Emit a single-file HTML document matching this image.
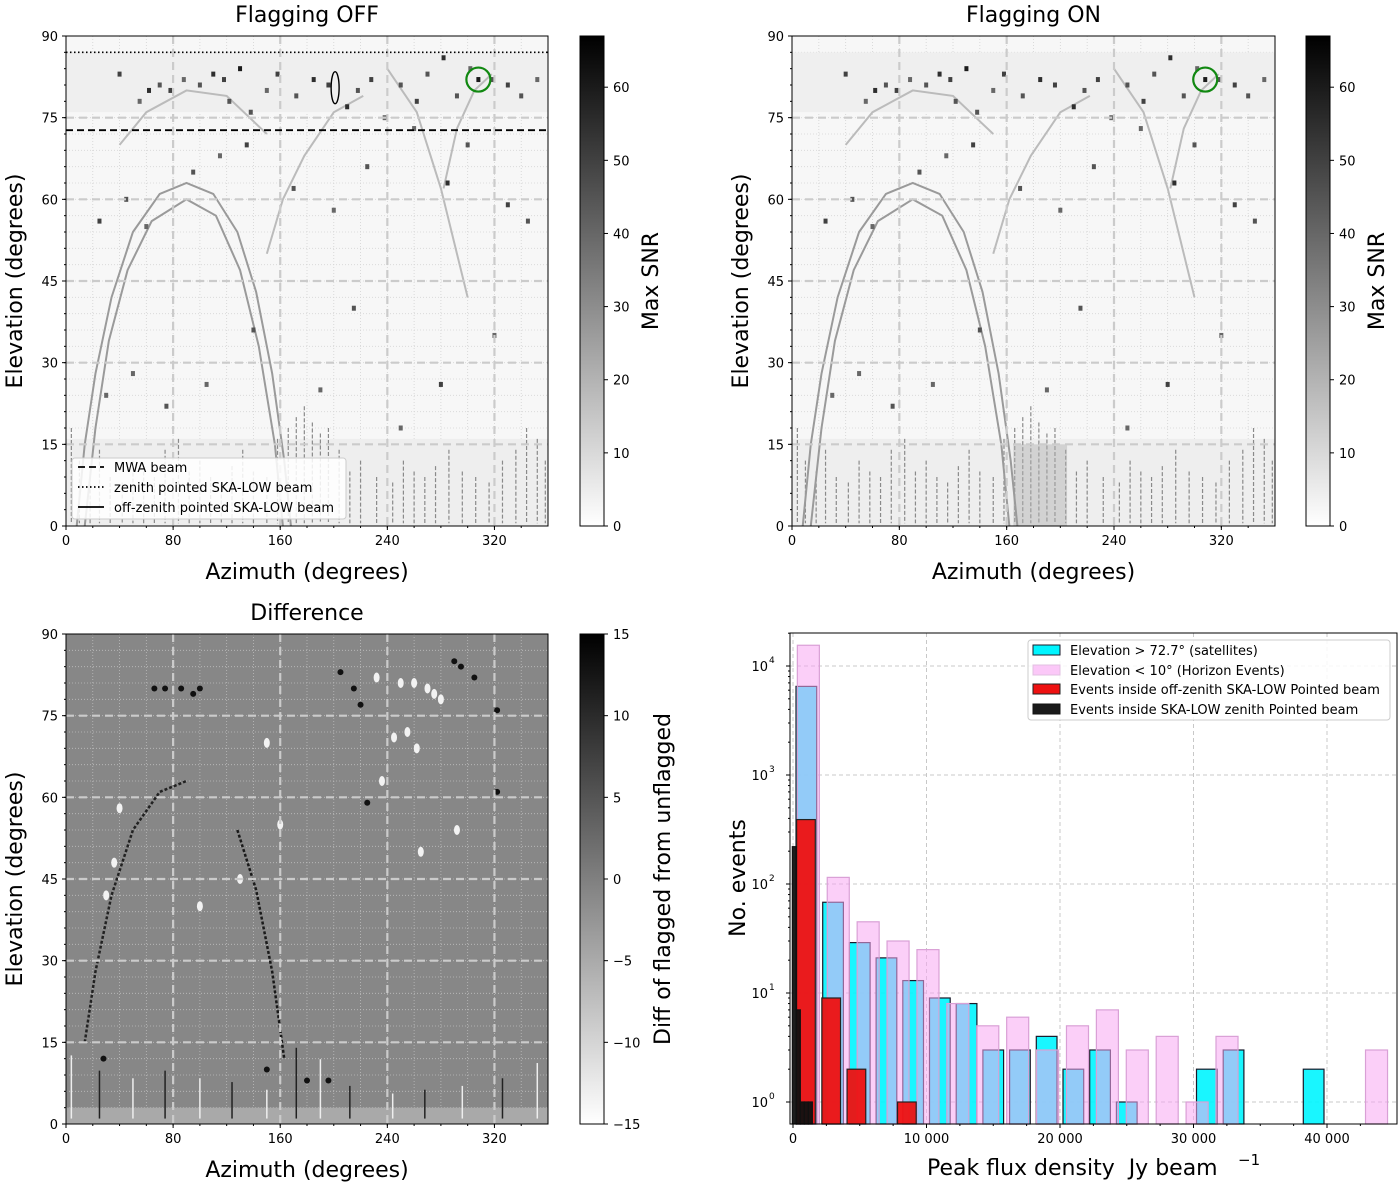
<!DOCTYPE html>
<html><head><meta charset="utf-8"><style>
body{margin:0;background:#fff;font-family:"Liberation Sans","DejaVu Sans",sans-serif}
svg text{font-family:"DejaVu Sans","Liberation Sans",sans-serif;fill:#000}
</style></head><body>
<svg id="fig" width="1400" height="1184" viewBox="0 0 1400 1184" xmlns="http://www.w3.org/2000/svg">
<defs>
<linearGradient id="gsnr" x1="0" y1="1" x2="0" y2="0"><stop offset="0" stop-color="#fff"/><stop offset="1" stop-color="#000"/></linearGradient>
</defs>
</svg>
<script>
// ---------- data ----------
const azTicks=[0,80,160,240,320];
const elTicks=[0,15,30,45,60,75,90];
const snrTicks=[0,10,20,30,40,50,60];
const diffTicks=[-15,-10,-5,0,5,10,15];
// arcs (az, el)
const arcMain=[[8,0],[14,15],[22,28],[34,42],[50,54],[70,61],[90,63],[110,61],[128,54],[142,43],[154,28],[163,12],[168,0]];
const arcInner=[[14,0],[22,18],[32,34],[46,47],[64,56],[90,60],[112,57],[130,47],[144,33],[156,15],[162,0]];
const arcMid=[[150,50],[162,60],[178,68],[200,76],[222,79]];
const arcRight=[[240,84],[262,76],[280,62],[292,50],[300,42]];
const arcSat=[[318,83],[305,80],[292,73],[282,62]];
const arcTop=[[40,70],[60,76],[90,80],[120,79],[150,72]];
// dark dots in SNR maps [az, el, intensity]
const dotsAz=[40,55,62,70,78,88,100,110,118,122,130,138,150,158,172,185,196,210,218,228,238,250,262,270,282,292,302,308,318,330,340,352,25,45,60,95,115,135,170,200,225,260,285,300,330,345,30,50,75,105,140,190,215,250,280,320];
const dotsEl=[83,78,80,81,80,82,81,83,82,78,84,76,80,83,79,82,81,77,80,82,75,81,78,83,86,79,84,82,82,81,79,82,56,60,55,65,68,70,62,58,66,73,63,70,59,56,24,28,22,26,36,25,40,18,26,35];
const dotsV=[50,40,55,45,50,40,45,55,50,45,60,45,40,50,45,55,50,55,45,50,40,45,50,45,55,45,40,60,45,50,45,40,50,45,40,45,40,50,45,40,45,40,55,45,50,45,40,40,45,40,45,40,45,40,50,40];
// vertical streaks near horizon (azimuth)
const streakAz=[4,10,18,25,33,42,50,58,66,74,84,92,100,108,116,124,132,140,150,158,166,172,178,184,190,196,204,212,220,232,244,252,260,268,276,286,296,306,316,326,336,344,352,358];
const streakTop=[18,12,10,14,9,8,12,10,9,14,16,10,12,9,8,11,14,10,9,16,18,20,22,19,17,18,14,10,12,9,8,12,10,9,11,14,10,9,8,12,14,18,16,12];
// difference map features [az, el, sign]
const diffAz=[66,74,86,95,100,205,215,220,290,295,305,322,232,250,260,270,275,280,255,262,245,36,100,130,150,236,292,28,150,180,196,322,265,160,40,30,225];
const diffEl=[80,80,80,79,80,83,80,77,85,84,82,76,82,81,81,80,79,78,72,69,71,48,40,45,70,63,54,12,10,8,8,61,50,55,58,42,59];
const diffS=[1,1,1,1,1,1,1,1,1,1,1,1,-1,-1,-1,-1,-1,-1,-1,-1,-1,-1,-1,-1,-1,-1,-1,1,1,1,1,1,-1,-1,-1,-1,1];
// histogram
const cyanX=[1000,3000,5000,7000,9000,11000,13000,15000,17000,19000,21000,23000,25000,27000,29000,31000,33000,35000,37000,39000];
const cyanN=[6500,68,29,21,13,9,8,3,3,4,2,3,1,0,0,2,3,0,0,2];
const pinkX=[1150,3390,5630,7870,10110,12350,14590,16830,19070,21310,23550,25790,28030,30270,32510,34750,36990,39230,41470,43710];
const pinkN=[15500,115,45,30,25,8,5,6,3,5,7,3,4,1,4,0,0,0,0,3];
const redX=[970,2860,4750,6640,8530];
const redN=[390,9,2,0,1];
const blackX=[100,400,700,1000,1300];
const blackN=[220,7,1,1,1];
const fluxTicks=[0,10000,20000,30000,40000];
const fluxLabels=["0","10 000","20 000","30 000","40 000"];
const decades=[0,1,2,3,4];

// ---------- helpers ----------
const NS="http://www.w3.org/2000/svg";
const svg=document.getElementById('fig');
function mk(tag,attrs,parent,txt){const e=document.createElementNS(NS,tag);for(const k in attrs)e.setAttribute(k,attrs[k]);if(txt!==undefined)e.textContent=txt;(parent||svg).appendChild(e);return e;}
function panel(x0,y0,x1,y1){return {az:a=>x0+(a/360)*(x1-x0),el:e=>y1-(e/90)*(y1-y0),x0,y0,x1,y1};}

function drawMap(P,name,kind,title){
  const g=mk('g',{});
  
  
  const bg=mk('rect',{x:P.x0,y:P.y0,width:P.x1-P.x0,height:P.y1-P.y0,fill:kind==='diff'?'#878787':'#f7f7f7'},g);
  
  
  for(let a=20;a<360;a+=20){mk('line',{x1:P.az(a),x2:P.az(a),y1:P.y0,y2:P.y1,stroke:kind==='diff'?'#bdbdbd':'#d2d2d2','stroke-width':0.8,'stroke-dasharray':'1,2'},g);}
  for(let e=3;e<90;e+=3){mk('line',{x1:P.x0,x2:P.x1,y1:P.el(e),y2:P.el(e),stroke:kind==='diff'?'#bdbdbd':'#d6d6d6','stroke-width':0.8,'stroke-dasharray':'1,2'},g);}
  if(kind==='diff'){
    mk('rect',{x:P.x0,y:P.el(3),width:P.x1-P.x0,height:P.y1-P.el(3),fill:'#a9a9a9'},g);
    diffAz.forEach((a,i)=>{
      const d=mk('ellipse',{cx:P.az(a),cy:P.el(diffEl[i]),rx:3,ry:diffS[i]>0?3:5,fill:diffS[i]>0?'#111':'#f2f2f2'},g);
      
      
    });
    const arcs=[[arcMain.slice(1,7),'#222'],[arcMain.slice(8,12),'#1a1a1a'],[arcTop.slice(0,0),'#eee']];
    arcs.forEach(([pts,c])=>{
      if(!pts.length)return;
      const p=mk('polyline',{points:pts.map(q=>P.az(q[0])+','+P.el(q[1])).join(' '),fill:'none',stroke:c,'stroke-width':2.5,'stroke-dasharray':'3,2'},g);
      
      
    });
    streakAz.forEach((a,i)=>{
      if(i%3===0){const s=mk('line',{x1:P.az(a),x2:P.az(a),y1:P.el(streakTop[i]*0.7),y2:P.el(1),stroke:i%2?'#222':'#eee','stroke-width':1.5},g);
      
      }
    });
  } else {
    mk('rect',{x:P.x0,y:P.el(16),width:P.x1-P.x0,height:P.y1-P.el(16),fill:'#eeeeee'},g);
    streakAz.forEach((a,i)=>{
      const s=mk('line',{x1:P.az(a),x2:P.az(a),y1:P.el(streakTop[i]),y2:P.el(0.5),stroke:'#8a8a8a','stroke-width':1.2,'stroke-dasharray':'4,2'},g);
      
      
    });
    if(kind==='on'){const c=mk('rect',{x:P.az(165),y:P.el(15),width:P.az(205)-P.az(165),height:P.el(0)-P.el(15),fill:'#b0b0b0',opacity:0.45},g);}
    mk('rect',{x:P.x0,y:P.el(87),width:P.x1-P.x0,height:P.el(76)-P.el(87),fill:'#efefef'},g);
    [arcMain,arcInner,arcMid,arcRight,arcSat,arcTop].forEach((pts,k)=>{
      const p=mk('polyline',{points:pts.map(q=>P.az(q[0])+','+P.el(q[1])).join(' '),fill:'none',stroke:k<2?'#9a9a9a':'#bbbbbb','stroke-width':2},g);
      
      
    });
    dotsAz.forEach((a,i)=>{
      const v=dotsV[i]/67;const c=Math.round(255*(1-v));
      const d=mk('rect',{x:P.az(a)-2,y:P.el(dotsEl[i])-2.5,width:4,height:5,fill:`rgb(${c},${c},${c})`},g);
      
      
    });
  }
  azTicks.slice(1).forEach(a=>mk('line',{x1:P.az(a),x2:P.az(a),y1:P.y0,y2:P.y1,stroke:'#cbcbcb','stroke-width':2.2,'stroke-dasharray':'8,5'},g));
  elTicks.slice(1,6).forEach(e=>mk('line',{x1:P.x0,x2:P.x1,y1:P.el(e),y2:P.el(e),stroke:'#cbcbcb','stroke-width':2.2,'stroke-dasharray':'8,5'},g));
  mk('rect',{x:P.x0,y:P.y0,width:P.x1-P.x0,height:P.y1-P.y0,fill:'none',stroke:'#000','stroke-width':1},g);
  azTicks.forEach(a=>{mk('line',{x1:P.az(a),x2:P.az(a),y1:P.y1,y2:P.y1+4,stroke:'#000'},g);const t=mk('text',{x:P.az(a),y:P.y1+19,'font-size':13,'text-anchor':'middle'},g,String(a));});
  for(let a=20;a<360;a+=20)mk('line',{x1:P.az(a),x2:P.az(a),y1:P.y1,y2:P.y1+2,stroke:'#000'},g);
  elTicks.forEach(e=>{mk('line',{x1:P.x0-4,x2:P.x0,y1:P.el(e),y2:P.el(e),stroke:'#000'},g);const t=mk('text',{x:P.x0-8,y:P.el(e)+5,'font-size':13,'text-anchor':'end'},g,String(e));});
  for(let e=3;e<90;e+=3)mk('line',{x1:P.x0-2,x2:P.x0,y1:P.el(e),y2:P.el(e),stroke:'#000'},g);
  const xt=mk('text',{x:(P.x0+P.x1)/2,y:P.y1+53,'font-size':22,'text-anchor':'middle'},g,'Azimuth (degrees)');
  
  const yt=mk('text',{x:0,y:0,'font-size':22,'text-anchor':'middle',transform:`translate(${P.x0-44},${(P.y0+P.y1)/2}) rotate(-90)`},g,'Elevation (degrees)');
  
  const tt=mk('text',{x:(P.x0+P.x1)/2,y:P.y0-14,'font-size':22,'text-anchor':'middle'},g,title);
  
  return g;
}
function colorbar(x,y0,y1,vmin,vmax,ticks,label,name,loff){
  const g=mk('g',{});
  
  
  mk('rect',{x:x,y:y0,width:24,height:y1-y0,fill:'url(#gsnr)',stroke:'#000','stroke-width':1},g);
  const ys=v=>y1-(v-vmin)/(vmax-vmin)*(y1-y0);
  ticks.forEach(v=>{mk('line',{x1:x+24,x2:x+28,y1:ys(v),y2:ys(v),stroke:'#000'},g);const t=mk('text',{x:x+33,y:ys(v)+5,'font-size':13},g,String(v).replace('-','\u2212'));});
  const l=mk('text',{x:0,y:0,'font-size':22,'text-anchor':'middle',transform:`translate(${x+loff},${(y0+y1)/2}) rotate(-90)`},g,label);
  
}

// ---------- panels ----------
const P1=panel(66,36,548,526);
drawMap(P1,'flagging-off-heatmap','off','Flagging OFF');
colorbar(580,36,526,0,67,snrTicks,'Max SNR','snr-colorbar-off',78);
let o=mk('line',{x1:P1.x0,x2:P1.x1,y1:P1.el(87),y2:P1.el(87),stroke:'#000','stroke-width':1.6,'stroke-dasharray':'1.5,2.5'});

o=mk('line',{x1:P1.x0,x2:P1.x1,y1:P1.el(72.7),y2:P1.el(72.7),stroke:'#000','stroke-width':1.8,'stroke-dasharray':'7,4'});

o=mk('ellipse',{cx:P1.az(201),cy:P1.el(80.5),rx:4,ry:16,fill:'none',stroke:'#000','stroke-width':1.4});

o=mk('circle',{cx:P1.az(308),cy:P1.el(82),r:12,fill:'none',stroke:'#118811','stroke-width':2.2});

const lg=mk('g',{});

mk('rect',{x:72,y:458,width:274,height:61,rx:3,fill:'#fff','fill-opacity':0.85,stroke:'#ccc'},lg);
[['MWA beam','7,4',467],['zenith pointed SKA-LOW beam','1.5,2.5',487],['off-zenith pointed SKA-LOW beam','',507]].forEach(r=>{
  mk('line',{x1:78,x2:104,y1:r[2],y2:r[2],stroke:'#000','stroke-width':1.8,'stroke-dasharray':r[1]||'none'},lg);
  const t=mk('text',{x:114,y:r[2]+5,'font-size':13},lg,r[0]);
});

const P2=panel(792,36,1275,526);
drawMap(P2,'flagging-on-heatmap','on','Flagging ON');
colorbar(1306,36,526,0,67,snrTicks,'Max SNR','snr-colorbar-on',78);
o=mk('circle',{cx:P2.az(308),cy:P2.el(82),r:12,fill:'none',stroke:'#118811','stroke-width':2.2});


const P3=panel(66,634,548,1124);
drawMap(P3,'difference-heatmap','diff','Difference');
colorbar(580,634,1124,-15,15,diffTicks,'Diff of flagged from unflagged','diff-colorbar',90);

// ---------- histogram ----------
const H={x0:790,x1:1397,y0:633,y1:1124};
const hx=v=>793+v*0.01335;
const hy=n=>1102-Math.log10(n)*109;
const hg=mk('g',{});

fluxTicks.forEach(v=>mk('line',{x1:hx(v),x2:hx(v),y1:H.y0,y2:H.y1,stroke:'#c8c8c8','stroke-dasharray':'4,3'},hg));
decades.forEach(d=>mk('line',{x1:H.x0,x2:H.x1,y1:hy(Math.pow(10,d)),y2:hy(Math.pow(10,d)),stroke:'#c8c8c8','stroke-dasharray':'4,3'},hg));
function bars(xs,ns,w,fill,stroke,op,name){
  xs.forEach((x,i)=>{if(ns[i]<=0)return;
    const b=mk('rect',{x:hx(x-w/2),y:hy(ns[i]),width:w*0.01335,height:H.y1-hy(ns[i]),fill:fill,'fill-opacity':op,stroke:stroke,'stroke-width':1.2},hg);
    
    
  });
}
bars(cyanX,cyanN,1550,'#00f5ff','#1a1a2a',0.9,'bar-satellites');
bars(pinkX,pinkN,1650,'#f7a8f2','#d9a0d6',0.55,'bar-horizon');
bars(redX,redN,1400,'#ee1111','#222',0.95,'bar-off-zenith');
bars(blackX,blackN,300,'#111','#111',0.95,'bar-zenith');
mk('rect',{x:H.x0,y:H.y0,width:H.x1-H.x0,height:H.y1-H.y0,fill:'none',stroke:'#000'},hg);
fluxTicks.forEach((v,i)=>{mk('line',{x1:hx(v),x2:hx(v),y1:H.y1,y2:H.y1+4,stroke:'#000'},hg);const t=mk('text',{x:hx(v),y:H.y1+19,'font-size':13,'text-anchor':'middle'},hg,fluxLabels[i]);});
for(let v=2500;v<45000;v+=2500)mk('line',{x1:hx(v),x2:hx(v),y1:H.y1,y2:H.y1+2,stroke:'#000'},hg);
decades.forEach(d=>{const y=hy(Math.pow(10,d));mk('line',{x1:H.x0-4,x2:H.x0,y1:y,y2:y,stroke:'#000'},hg);
  const t=mk('text',{x:H.x0-22,y:y+5,'font-size':13,'text-anchor':'end'},hg,'10');
  mk('text',{x:H.x0-21,y:y-3,'font-size':9},hg,String(d));
  for(let m=2;m<10;m++){const ym=hy(m*Math.pow(10,d));if(ym>H.y0)mk('line',{x1:H.x0-2,x2:H.x0,y1:ym,y2:ym,stroke:'#000'},hg);}
});
let t=mk('text',{x:927,y:1175,'font-size':22},hg,'Peak flux density\u00a0\u00a0Jy beam');

mk('text',{x:1238,y:1165,'font-size':15},hg,'\u22121');
t=mk('text',{x:0,y:0,'font-size':22,'text-anchor':'middle',transform:'translate(745,878) rotate(-90)'},hg,'No. events');

const hl=mk('g',{});

mk('rect',{x:1028,y:640,width:362,height:80,rx:3,fill:'#fff','fill-opacity':0.85,stroke:'#ccc'},hl);
[['Elevation > 72.7\u00b0 (satellites)','#00f5ff','#1a1a2a',650],['Elevation < 10\u00b0 (Horizon Events)','#fbc8f8','#e0c0e0',670],['Events inside off-zenith SKA-LOW Pointed beam','#ee1111','#222',689],['Events inside SKA-LOW zenith Pointed beam','#1a1a1a','#111',709]].forEach(r=>{
  mk('rect',{x:1033,y:r[3]-5,width:27,height:10,fill:r[1],stroke:r[2]},hl);
  const e=mk('text',{x:1070,y:r[3]+5,'font-size':13},hl,r[0]);
});
</script>
</body></html>
